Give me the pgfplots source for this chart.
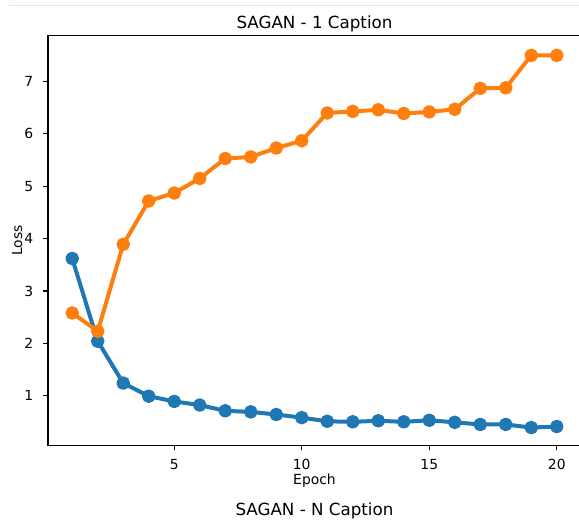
\documentclass[border=0pt]{standalone}
\usepackage{fontspec}
\setmainfont{DejaVu Sans}
\usepackage{pgfplots}
\pgfplotsset{compat=1.18}
\definecolor{tabblue}{HTML}{1F77B4}
\definecolor{taborange}{HTML}{FF7F0E}
\newcommand{\tickfont}{\fontsize{13.9}{16}\selectfont}
\newcommand{\titlefont}{\fontsize{16.7}{20}\selectfont}

\begin{document}
\begin{tikzpicture}[x=1pt,y=1pt]
\useasboundingbox (0,0) rectangle (579,521);
\clip (0,0) rectangle (579,521);
% thin separator line at the very top
\draw[color=black!10, line width=1pt] (9,515) -- (579,515);
\begin{axis}[
    at={(48pt,75.5pt)}, anchor=south west,
    scale only axis, width=533pt, height=410pt,
    xmin=0.05, xmax=20.95, ymin=0.048, ymax=7.88,
    xtick={5,10,15,20}, ytick={1,2,3,4,5,6,7},
    tick pos=left, tick align=outside, major tick length=4.9pt,
    every tick/.style={black, line width=1.1pt},
    axis line style={black, line width=1.1pt},
    ticklabel style={font=\tickfont, inner sep=0pt},
    xticklabel style={anchor=base, yshift=-19.5pt},
    yticklabel style={anchor=east, xshift=-9.8pt},
    /pgf/number format/assume math mode=true,
    clip=false,
]
\addplot[tabblue, line width=4pt, line join=round, mark=*, mark size=4.8pt,
    mark options={solid, fill=tabblue, draw=none}]
coordinates {
 (1,3.62) (2,2.04) (3,1.24) (4,0.99) (5,0.89) (6,0.82) (7,0.71) (8,0.69)
 (9,0.64) (10,0.58) (11,0.51) (12,0.50) (13,0.52) (14,0.50) (15,0.53)
 (16,0.49) (17,0.45) (18,0.45) (19,0.39) (20,0.41)
};
\addplot[taborange, line width=4pt, line join=round, mark=*, mark size=4.8pt,
    mark options={solid, fill=taborange, draw=none}]
coordinates {
 (1,2.58) (2,2.23) (3,3.89) (4,4.72) (5,4.87) (6,5.15) (7,5.53) (8,5.56)
 (9,5.73) (10,5.87) (11,6.40) (12,6.43) (13,6.46) (14,6.39) (15,6.42)
 (16,6.47) (17,6.87) (18,6.88) (19,7.50) (20,7.50)
};
\end{axis}
\node[anchor=base, font=\titlefont, inner sep=0pt] at (314.5,492.7) {SAGAN - 1 Caption};
\node[anchor=base, font=\tickfont, inner sep=0pt] at (314.5,36) {Epoch};
\node[anchor=base, font=\tickfont, inner sep=0pt, rotate=90] at (22,280.5) {Loss};
\node[anchor=base, font=\titlefont, inner sep=0pt] at (314.5,5) {SAGAN - N Caption};
\end{tikzpicture}
\end{document}
